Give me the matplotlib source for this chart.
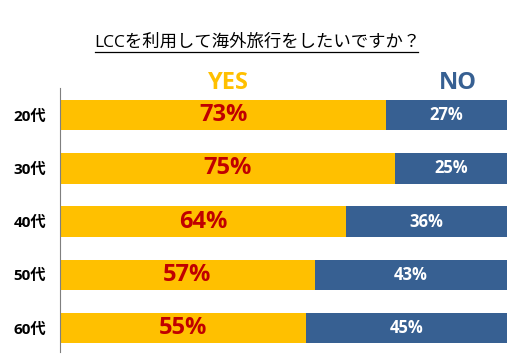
import matplotlib.pyplot as plt

plt.rcParams['font.family'] = ['Open Sans', 'Noto Sans CJK JP', 'DejaVu Sans']

ages = ['20代', '30代', '40代', '50代', '60代']
yes = [73, 75, 64, 57, 55]
no = [27, 25, 36, 43, 45]

yellow = '#FFC000'
blue = '#376092'
red = '#C00000'

fig = plt.figure(figsize=(5.28, 3.57), dpi=100)
ax = fig.add_axes([0.1136, 0.014, 0.8466, 0.7395])

pos = range(len(ages))
ax.barh(pos, yes, height=0.57, color=yellow)
ax.barh(pos, no, left=yes, height=0.57, color=blue)

for i, (y, n) in enumerate(zip(yes, no)):
    ax.text(y / 2, i, f'{y}%', ha='center', va='center', color=red,
            fontsize=17, fontweight='bold')
    ax.text(y + n / 2, i, f'{n}%', ha='center', va='center', color='white',
            fontsize=12, fontweight='bold')

ax.set_xlim(0, 100)
ax.set_ylim(4.45, -0.51)
ax.set_yticks(list(pos))
ax.set_yticklabels(ages, fontsize=11, fontweight='bold')
ax.tick_params(axis='y', length=0, pad=10)
ax.set_xticks([])
for s in ['top', 'right', 'bottom']:
    ax.spines[s].set_visible(False)
ax.spines['left'].set_color('#7f7f7f')
ax.spines['left'].set_linewidth(0.8)

fig.text(0.432, 0.767, 'YES', ha='center', va='center', color=yellow,
         fontsize=17, fontweight='bold')
fig.text(0.868, 0.767, 'NO', ha='center', va='center', color=blue,
         fontsize=17, fontweight='bold')

fig.text(0.487, 0.882, 'LCCを利用して海外旅行をしたいですか？', ha='center',
         va='center', fontsize=12.5, color='black')
fig.add_artist(plt.Line2D([0.18, 0.792], [0.853, 0.853], color='black',
                          linewidth=0.9, transform=fig.transFigure))

fig.savefig('out.png', dpi=100)
